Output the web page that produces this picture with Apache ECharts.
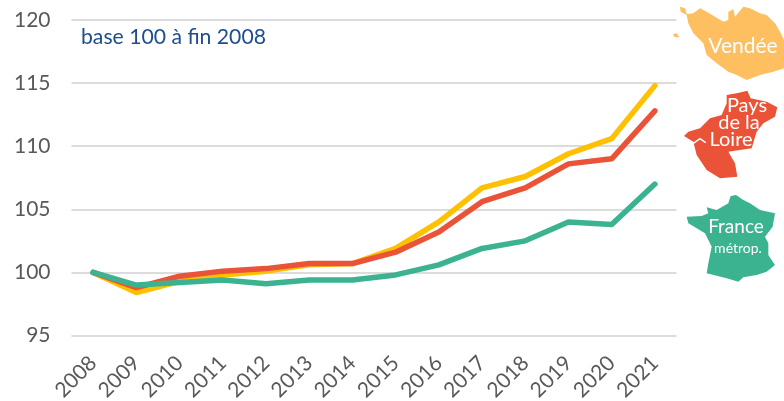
<!DOCTYPE html>
<html><head><meta charset="utf-8">
<script src="https://cdn.jsdelivr.net/npm/echarts@6/dist/echarts.min.js"></script>
<style>html,body{margin:0;padding:0;background:#fff}#c{width:784px;height:401px}</style></head>
<body><div id="c"></div>
<script>
const years = ['2008','2009','2010','2011','2012','2013','2014','2015','2016','2017','2018','2019','2020','2021'];
const vendee = [100,98.4,99.3,99.8,100.1,100.6,100.7,101.9,104,106.7,107.6,109.4,110.6,114.8];
const paysDeLaLoire = [100,98.8,99.7,100.1,100.3,100.7,100.7,101.6,103.2,105.6,106.7,108.6,109,112.8];
const france = [100,99,99.2,99.4,99.1,99.4,99.4,99.8,100.6,101.9,102.5,104,103.8,107];

const z = pts => pts.map(p => [660 + p[0] / 3, p[1] / 3]);
const vendeeShape = z([[60,20],[75,25],[80,42],[100,40],[120,25],[140,35],[165,50],[190,65],[205,60],[205,35],[220,28],[225,50],[250,20],[270,25],[300,40],[320,45],[345,70],[360,95],[372,120],[372,205],[340,215],[300,225],[260,240],[230,225],[205,215],[170,190],[140,165],[130,130],[100,100],[85,70],[80,45],[62,35]]);
const vendeeIsle = z([[38,103],[50,100],[58,112],[45,112]]);
const loireShape = z([[200,285],[230,280],[262,272],[272,295],[320,305],[352,322],[345,350],[310,370],[290,395],[275,445],[205,455],[225,490],[232,530],[180,535],[140,510],[110,465],[100,425],[72,408],[85,395],[120,385],[150,355],[185,345],[200,310]]);
const estuary = z([[100,430],[120,416],[137,428]]);
const franceShape = z([[228,585],[250,600],[270,610],[300,630],[345,640],[338,680],[315,710],[325,730],[325,765],[345,795],[320,815],[290,825],[250,832],[235,845],[200,835],[140,820],[145,790],[155,740],[135,700],[85,670],[80,650],[125,648],[145,640],[140,622],[170,630],[205,610],[212,588]]);

const poly = (points, fill) => ({type:'polygon', silent:true, shape:{points}, style:{fill}});
const label = (text, x, y, size) => ({type:'text', silent:true, x, y, style:{text, x:0, y:0, fill:'#fff', font:size+'px Lato, sans-serif', textAlign:'center', textVerticalAlign:'middle'}});
const mkLine = (name, data, color) => ({name, type:'line', data, symbol:'none', smooth:false, lineStyle:{color, width:5.5, cap:'round', join:'round'}, itemStyle:{color}, animation:false});

const chart = echarts.init(document.getElementById('c'), null, {renderer:'canvas'});
chart.setOption({
  animation:false,
  backgroundColor:'#fff',
  grid:{left:71.5, right:107.5, top:20, bottom:65.5, containLabel:false, outerBoundsMode:'none'},
  xAxis:{type:'category', data:years, boundaryGap:true,
    axisLine:{show:false}, axisTick:{show:false},
    axisLabel:{rotate:45, color:'#595959', fontSize:21, fontFamily:'Lato', margin:24, interval:0, hideOverlap:false}},
  yAxis:{type:'value', min:95, max:120, interval:5,
    axisLine:{show:false}, axisTick:{show:false},
    axisLabel:{color:'#595959', fontSize:21, fontFamily:'Lato', margin:21},
    splitLine:{lineStyle:{color:'#dcdcdc', width:2}}},
  series:[mkLine('Vendée',vendee,'#ffc000'), mkLine('Pays de la Loire',paysDeLaLoire,'#ea5338'), mkLine('France métrop.',france,'#3bb391')],
  graphic:[
    {type:'text', silent:true, x:81, y:37, style:{text:'base 100 à fin 2008', fill:'#1f4e8c', font:'21.2px Lato, sans-serif', textVerticalAlign:'middle'}},
    poly(vendeeShape,'#fdbf5f'), poly(vendeeIsle,'#fdbf5f'), poly(loireShape,'#ea5338'),
    {type:'polyline', silent:true, shape:{points:estuary}, style:{stroke:'#fff', lineWidth:1.5, fill:null}},
    poly(franceShape,'#3bb391'),
    label('Vendée',743,46,21), label('Pays',747,106,20), label('de la',739,123,20), label('Loire',731,140,20),
    label('France',736,227,19), label('métrop.',738,248,14)
  ]
});
</script></body></html>
